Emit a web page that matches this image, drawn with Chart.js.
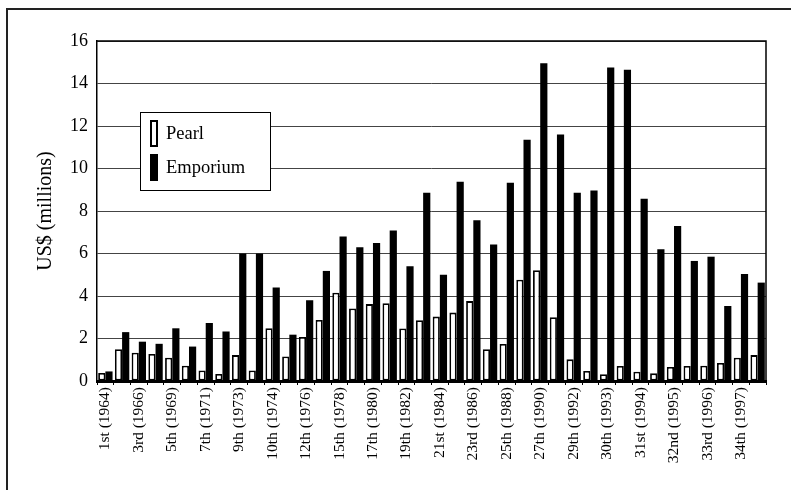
<!DOCTYPE html>
<html>
<head>
<meta charset="utf-8">
<script src="https://cdn.jsdelivr.net/npm/chart.js@4.4.1/dist/chart.umd.min.js"></script>
<style>
html,body{margin:0;padding:0;background:#fff;}
#wrap{position:relative;width:791px;height:490px;}
</style>
</head>
<body>
<div id="wrap"><canvas id="c" width="791" height="490"></canvas></div>
<script>
const categories = ['1st (1964)','', '3rd (1966)','', '5th (1969)','', '7th (1971)','', '9th (1973)','',
  '10th (1974)','', '12th (1976)','', '15th (1978)','', '17th (1980)','', '19th (1982)','',
  '21st (1984)','', '23rd (1986)','', '25th (1988)','', '27th (1990)','', '29th (1992)','',
  '30th (1993)','', '31st (1994)','', '32nd (1995)','', '33rd (1996)','', '34th (1997)',''];
const pearl = [0.38, 1.5, 1.33, 1.27, 1.1, 0.72, 0.5, 0.33, 1.22, 0.5,
  2.48, 1.15, 2.07, 2.87, 4.15, 3.41, 3.62, 3.66, 2.47, 2.86,
  3.03, 3.22, 3.76, 1.5, 1.74, 4.77, 5.21, 3.0, 1.02, 0.47,
  0.32, 0.71, 0.44, 0.36, 0.66, 0.71, 0.72, 0.85, 1.1, 1.22];
const emporium = [0.45, 2.3, 1.85, 1.75, 2.48, 1.62, 2.73, 2.33, 6.0, 6.0,
  4.4, 2.18, 3.8, 5.18, 6.8, 6.3, 6.5, 7.08, 5.4, 8.86,
  5.0, 9.38, 7.56, 6.42, 9.33, 11.35, 14.95, 11.6, 8.86, 8.97,
  14.75, 14.65, 8.58, 6.2, 7.3, 5.65, 5.85, 3.53, 5.04, 4.63];
const seriesNames = ['Pearl', 'Emporium'];
const yTitle = 'US$ (millions)';

const FONT = "'Liberation Serif', 'DejaVu Serif', serif";

const framePlugin = {
  id: 'frame',
  beforeDraw(chart) {
    const ctx = chart.ctx;
    ctx.save();
    ctx.strokeStyle = '#222';
    ctx.lineWidth = 2;
    ctx.beginPath();
    ctx.moveTo(7, 490);
    ctx.lineTo(7, 9);
    ctx.lineTo(791, 9);
    ctx.stroke();
    ctx.restore();
  },
  afterDraw(chart) {
    const ctx = chart.ctx;
    const a = chart.chartArea;
    ctx.save();
    ctx.strokeStyle = '#000';
    ctx.lineWidth = 1.5;
    ctx.beginPath();
    ctx.moveTo(a.left, a.top);
    ctx.lineTo(a.right, a.top);
    ctx.lineTo(a.right, a.bottom);
    ctx.stroke();
    // legend
    const bx = 140, by = 112, bw = 130, bh = 78;
    ctx.fillStyle = '#fff';
    ctx.fillRect(bx, by, bw, bh);
    ctx.lineWidth = 1;
    ctx.strokeStyle = '#000';
    ctx.strokeRect(bx + 0.5, by + 0.5, bw, bh);
    const ds = chart.data.datasets;
    const rows = [133, 167];
    ds.forEach((d, i) => {
      const cy = rows[i];
      if (i === 0) {
        ctx.fillStyle = '#fff';
        ctx.fillRect(151, cy - 12, 6, 25);
        ctx.lineWidth = 2;
        ctx.strokeRect(151, cy - 12, 6, 25);
      } else {
        ctx.fillStyle = '#000';
        ctx.fillRect(150, cy - 13, 8, 27);
      }
      ctx.fillStyle = '#000';
      ctx.font = "18.5px " + FONT;
      ctx.textBaseline = 'middle';
      ctx.textAlign = 'left';
      ctx.fillText(d.label, 166, cy + 1);
    });
    ctx.restore();
  }
};

new Chart(document.getElementById('c'), {
  type: 'bar',
  data: {
    labels: categories,
    datasets: [
      { label: seriesNames[0], data: pearl, backgroundColor: '#fff', borderColor: '#000', borderWidth: 1.8, borderSkipped: false },
      { label: seriesNames[1], data: emporium, backgroundColor: '#000', borderColor: '#000', borderWidth: 0 }
    ]
  },
  plugins: [framePlugin],
  options: {
    responsive: false,
    animation: false,
    layout: { padding: { left: 0, top: 41, right: 25, bottom: 0 } },
    datasets: { bar: { categoryPercentage: 0.86, barPercentage: 1.0 } },
    plugins: { legend: { display: false }, tooltip: { enabled: false } },
    scales: {
      x: {
        grid: { display: true, drawOnChartArea: false, drawTicks: true, tickLength: 4, color: '#000', offset: true },
        border: { display: true, color: '#000', width: 3 },
        ticks: { autoSkip: false, maxRotation: 90, minRotation: 90, padding: 2, color: '#000', font: { family: FONT, size: 15.5 } },
        afterFit(s) { s.height = 109; }
      },
      y: {
        min: 0, max: 16,
        ticks: { stepSize: 2, color: '#000', padding: 9, font: { family: FONT, size: 18 } },
        grid: { color: '#444', lineWidth: 1, drawTicks: false },
        border: { display: true, color: '#000', width: 1.5 },
        title: { display: true, text: yTitle, color: '#000', font: { family: FONT, size: 20 }, padding: { top: 34, bottom: 0 } },
        afterFit(s) { s.width = 97; }
      }
    }
  }
});
</script>
</body>
</html>
